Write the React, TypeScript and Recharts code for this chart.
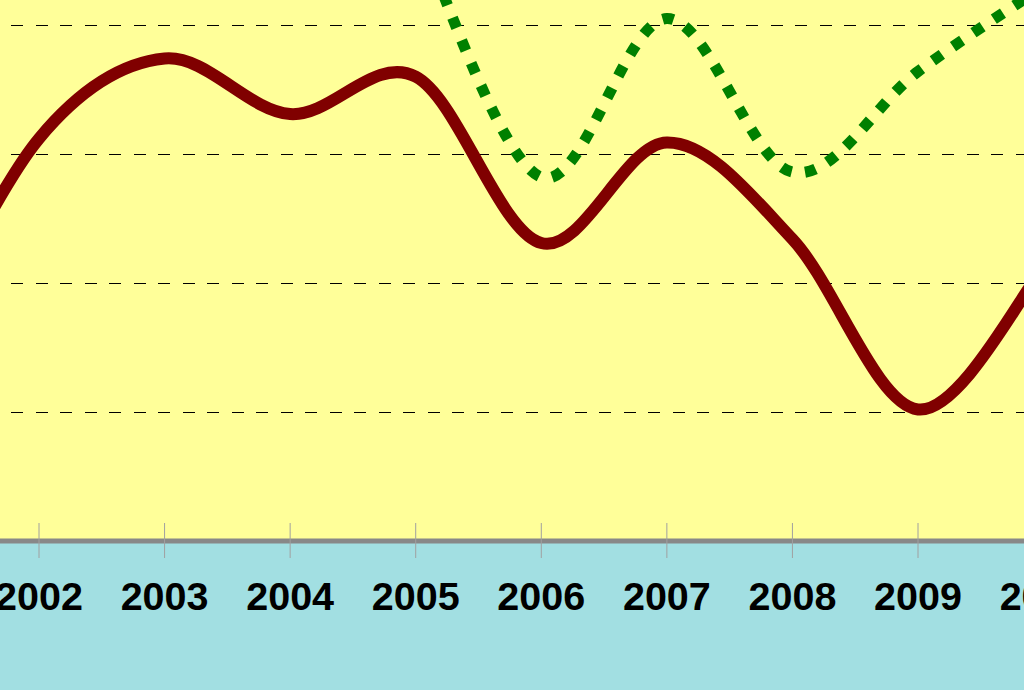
import { LineChart, Line, XAxis, YAxis, CartesianGrid, ReferenceLine } from 'recharts'

const years = [2001, 2002, 2003, 2004, 2005, 2006, 2007, 2008, 2009, 2010]
const redSeries = [14, 31.2, 37.4, 33.1, 36.0, 23.1, 30.9, 23.4, 10.2, 21.2]
const greenSeries = [null, null, null, null, 47.6, 28.2, 40.5, 28.6, 36.4, 43]
const yearTicks = [2002, 2003, 2004, 2005, 2006, 2007, 2008, 2009, 2010]
const gridValues = [10, 20, 30, 40]

const data = years.map((year, i) => ({
  year,
  red: redSeries[i],
  green: greenSeries[i],
}))

// spreadsheet-like smoothing (Catmull-Rom through every point)
function smoothCurve(context: any) {
  let pts: [number, number][] = []
  return {
    areaStart() {},
    areaEnd() {},
    lineStart() {
      pts = []
    },
    lineEnd() {
      const n = pts.length
      if (n === 0) return
      context.moveTo(pts[0][0], pts[0][1])
      for (let i = 0; i < n - 1; i++) {
        const p0 = pts[i - 1] || pts[i]
        const p1 = pts[i]
        const p2 = pts[i + 1]
        const p3 = pts[i + 2] || p2
        context.bezierCurveTo(
          p1[0] + (p2[0] - p0[0]) / 6,
          p1[1] + (p2[1] - p0[1]) / 6,
          p2[0] - (p3[0] - p1[0]) / 6,
          p2[1] - (p3[1] - p1[1]) / 6,
          p2[0],
          p2[1],
        )
      }
    },
    point(x: number, y: number) {
      pts.push([+x, +y])
    },
  }
}

function YearTick(props: any) {
  const { x, y, payload } = props
  return (
    <g>
      <line x1={x} x2={x} y1={y - 18} y2={y + 17} stroke="#a0a0a0" strokeWidth={1} />
      <text
        transform={`translate(${x},${y + 69}) scale(1.04,1)`}
        x={0}
        y={0}
        textAnchor="middle"
        fill="#000"
        fontSize={38}
        fontWeight="bold"
        fontFamily="'Liberation Sans', Arial, sans-serif"
      >
        {payload.value}
      </text>
    </g>
  )
}

export default function App() {
  return (
    <div style={{ position: 'absolute', left: 0, top: 0, width: 1024, height: 690, background: '#a2dfe2' }}>
      <LineChart width={1024} height={690} data={data} margin={{ top: 0, right: 0, bottom: 0, left: 0 }}>
        <CartesianGrid horizontal={false} vertical={false} fill="#ffff99" fillOpacity={1} />
        <XAxis
          dataKey="year"
          type="number"
          domain={[2001.6894, 2009.8441]}
          allowDataOverflow
          ticks={yearTicks}
          interval={0}
          height={149}
          tickSize={0}
          tickMargin={0}
          tickLine={false}
          axisLine={{ stroke: '#888888', strokeWidth: 5 }}
          tick={<YearTick />}
        />
        <YAxis hide type="number" domain={[0, 41.94]} allowDataOverflow />
        {gridValues.map((v) => (
          <ReferenceLine
            key={v}
            y={v}
            stroke="#000"
            strokeWidth={1}
            strokeDasharray="12 12.5"
            strokeDashoffset={13.5}
            shapeRendering="crispEdges"
          />
        ))}
        <Line
          dataKey="red"
          type={smoothCurve as any}
          stroke="#800000"
          strokeWidth={12}
          strokeLinejoin="round"
          dot={false}
          activeDot={false}
          isAnimationActive={false}
        />
        <Line
          dataKey="green"
          type={smoothCurve as any}
          stroke="#008000"
          strokeWidth={11}
          strokeDasharray="11 13.5"
          dot={false}
          activeDot={false}
          isAnimationActive={false}
        />
      </LineChart>
    </div>
  )
}
